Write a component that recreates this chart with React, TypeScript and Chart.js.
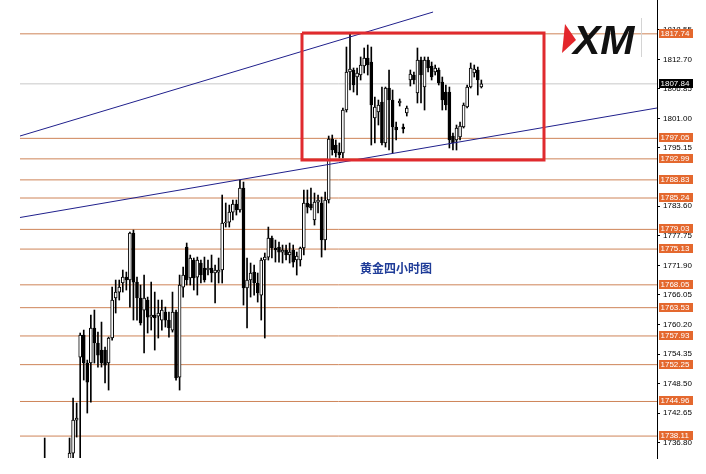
import React, { useEffect, useRef } from 'react';
import { Chart, registerables } from 'chart.js';

Chart.register(...registerables);

// Right-axis tick labels
const Y_TICKS = [1818.55, 1812.7, 1806.85, 1801.0, 1795.15, 1783.6, 1777.75, 1771.9, 1766.05, 1760.2, 1754.35, 1748.5, 1742.65, 1736.8];

// Horizontal support / resistance levels
const LEVELS = [1817.74, 1797.05, 1792.99, 1788.83, 1785.24, 1779.03, 1775.13, 1768.05, 1763.53, 1757.93, 1752.25, 1744.96, 1738.11];
const CURRENT_PRICE = 1807.84;

// 4H candles (open, high, low, close)
const OPEN = [
  1732.77, 1731.78, 1730.19, 1728.21, 1729.4, 1730.98, 1731.78, 1732.96, 1734.75, 1741.28,
  1753.75, 1758.11, 1752.57, 1752.57, 1759.5, 1756.53, 1755.14, 1755.14, 1752.57, 1757.52,
  1765.44, 1766.62, 1768.41, 1769.59, 1769.0, 1778.31, 1768.6, 1765.44, 1763.06, 1765.04,
  1761.67, 1762.07, 1761.87, 1761.08, 1762.66, 1761.08, 1759.1, 1762.66, 1749.79, 1767.61,
  1775.53, 1769.4, 1772.96, 1769.59, 1772.37, 1771.38, 1770.98, 1771.38, 1770.39, 1770.58,
  1770.98, 1780.29, 1780.48, 1782.46, 1784.05, 1782.86, 1787.22, 1767.42, 1769.0, 1770.58,
  1768.41, 1766.03, 1772.96, 1773.55, 1777.32, 1775.34, 1775.53, 1774.54, 1774.94, 1773.95,
  1774.94, 1772.96, 1772.96, 1775.34, 1784.25, 1784.05, 1780.88, 1784.44, 1784.25, 1776.92,
  1784.84, 1796.92, 1795.73, 1794.34, 1794.15, 1802.66, 1810.18, 1810.58, 1809.19, 1809.59,
  1811.37, 1812.96, 1812.16, 1801.08, 1802.26, 1804.24, 1796.13, 1807.02, 1804.64, 1799.29,
  1804.05, 1799.29, 1802.07, 1808.6, 1809.59, 1806.03, 1812.56, 1807.21, 1812.56, 1811.37,
  1810.18, 1810.58, 1808.2, 1806.22, 1806.22, 1797.51, 1796.72, 1797.31, 1799.29, 1803.25,
  1807.21, 1809.99, 1810.58, 1807.21,
];
const HIGH = [
  1737.72, 1732.96, 1731.38, 1729.8, 1731.38, 1732.96, 1733.16, 1737.72, 1745.64, 1744.65,
  1758.51, 1759.1, 1753.16, 1762.07, 1763.06, 1758.7, 1760.68, 1755.73, 1757.71, 1767.61,
  1769.0, 1769.0, 1770.98, 1770.58, 1778.5, 1778.9, 1769.59, 1768.01, 1769.99, 1765.63,
  1768.6, 1766.62, 1765.04, 1765.04, 1763.65, 1762.66, 1766.62, 1763.06, 1769.99, 1771.57,
  1776.33, 1773.95, 1773.36, 1773.55, 1772.96, 1773.55, 1772.96, 1773.95, 1771.97, 1773.36,
  1785.83, 1784.25, 1783.85, 1784.84, 1784.84, 1788.8, 1788.4, 1773.36, 1772.37, 1771.97,
  1770.39, 1773.36, 1774.35, 1779.49, 1777.71, 1776.92, 1776.52, 1775.93, 1775.93, 1776.33,
  1775.93, 1774.54, 1775.53, 1786.82, 1786.82, 1787.22, 1786.23, 1785.83, 1785.43, 1786.42,
  1797.51, 1797.71, 1796.72, 1796.13, 1803.06, 1815.13, 1817.91, 1810.98, 1810.98, 1813.16,
  1814.94, 1815.53, 1815.13, 1805.23, 1804.64, 1807.21, 1807.21, 1810.58, 1806.62, 1800.28,
  1804.84, 1799.89, 1803.45, 1810.58, 1810.18, 1814.94, 1813.16, 1813.16, 1813.16, 1812.16,
  1811.57, 1810.98, 1809.19, 1807.61, 1807.21, 1798.11, 1799.69, 1800.28, 1804.05, 1807.61,
  1811.97, 1811.57, 1811.17, 1808.6,
];
const LOW = [
  1730.98, 1729.4, 1727.42, 1726.43, 1727.81, 1729.4, 1730.39, 1732.17, 1733.36, 1737.91,
  1733.36, 1749.2, 1742.67, 1744.84, 1752.57, 1751.77, 1751.77, 1748.61, 1747.22, 1757.12,
  1762.47, 1765.04, 1766.62, 1767.02, 1763.65, 1761.08, 1761.08, 1760.09, 1754.55, 1758.51,
  1759.1, 1755.14, 1757.52, 1759.1, 1759.69, 1757.71, 1758.7, 1749.2, 1747.22, 1765.63,
  1768.01, 1768.01, 1767.02, 1766.03, 1768.41, 1768.6, 1769.99, 1768.6, 1764.45, 1768.41,
  1768.41, 1779.49, 1779.49, 1780.88, 1781.87, 1782.46, 1764.05, 1759.5, 1765.63, 1766.03,
  1764.64, 1761.08, 1757.52, 1772.96, 1773.36, 1772.56, 1772.56, 1772.37, 1772.96, 1772.37,
  1771.57, 1769.99, 1771.77, 1773.95, 1782.27, 1782.86, 1779.89, 1782.27, 1773.55, 1774.94,
  1784.25, 1793.75, 1793.35, 1793.16, 1793.16, 1802.26, 1806.62, 1806.22, 1805.63, 1808.6,
  1809.99, 1809.59, 1795.73, 1796.13, 1799.69, 1795.73, 1795.33, 1794.74, 1794.15, 1796.72,
  1803.45, 1798.11, 1801.47, 1807.41, 1807.81, 1804.05, 1804.05, 1802.66, 1810.18, 1808.6,
  1809.59, 1807.61, 1802.66, 1802.66, 1795.14, 1794.74, 1794.74, 1796.72, 1799.1, 1803.06,
  1807.02, 1809.19, 1805.63, 1807.02,
];
const CLOSE = [
  1731.78, 1730.19, 1728.21, 1729.4, 1730.98, 1731.78, 1732.37, 1734.75, 1741.28, 1741.68,
  1758.11, 1752.57, 1748.8, 1759.5, 1756.53, 1754.15, 1752.57, 1752.17, 1757.52, 1765.04,
  1766.62, 1767.61, 1769.59, 1769.0, 1778.31, 1768.6, 1765.44, 1760.49, 1765.44, 1761.67,
  1762.07, 1761.48, 1762.47, 1763.06, 1761.08, 1759.5, 1762.66, 1749.6, 1768.01, 1769.99,
  1769.0, 1773.36, 1769.4, 1772.96, 1769.99, 1769.0, 1771.38, 1770.39, 1770.98, 1770.98,
  1780.29, 1780.48, 1782.46, 1784.05, 1782.86, 1787.22, 1767.42, 1769.0, 1770.39, 1768.41,
  1766.43, 1772.96, 1773.55, 1777.32, 1775.34, 1774.94, 1774.54, 1774.94, 1773.95, 1774.54,
  1772.56, 1773.75, 1775.34, 1784.25, 1783.45, 1783.26, 1784.44, 1784.84, 1776.92, 1784.84,
  1796.92, 1794.74, 1794.15, 1793.75, 1802.66, 1810.18, 1810.78, 1807.61, 1809.99, 1811.57,
  1812.96, 1811.57, 1803.65, 1803.25, 1803.65, 1796.13, 1807.02, 1804.64, 1799.29, 1798.7,
  1804.44, 1798.9, 1803.06, 1809.79, 1808.6, 1812.56, 1809.59, 1812.56, 1810.98, 1809.19,
  1810.98, 1808.01, 1804.64, 1803.65, 1796.72, 1796.13, 1799.1, 1799.49, 1803.65, 1807.21,
  1810.98, 1810.78, 1808.6, 1807.84,
];

// Trend lines and highlighted box, in (bar index, price) coordinates
const UPPER_TREND = [{ x: -6.96, y: 1797.51 }, { x: 109.4, y: 1822.06 }];
const LOWER_TREND = [{ x: -6.96, y: 1781.38 }, { x: 172.48, y: 1803.06 }];
const BOX_X = [72.48, 140.65];
const BOX_Y = [1792.77, 1817.91];
const LABEL_TEXT = '黄金四小时图';
const LABEL_POS = { x: 98.96, y: 1771.39 };

const X_MIN = -12.59;
const X_MAX = 172.48;
const LINE_START = -6.96;
const Y_MIN = 1733.77;
const Y_MAX = 1824.44;

const LEVEL_COLOR = 'rgb(206,132,88)';
const TAG_COLOR = '#e4682e';

const overlayPlugin = {
  id: 'overlay',
  afterDraw(chart: any) {
    const { ctx, chartArea } = chart;
    const x = chart.scales.x;
    const y = chart.scales.y;
    ctx.save();
    // price tags on the axis
    ctx.font = '8px "Liberation Sans", Arial, sans-serif';
    ctx.textBaseline = 'middle';
    ctx.textAlign = 'left';
    const bx = chartArea.right + 2;
    const tag = (v: number, bg: string) => {
      const py = Math.round(y.getPixelForValue(v));
      ctx.fillStyle = bg;
      ctx.fillRect(bx, py - 5, 34, 9);
      ctx.fillStyle = '#ffffff';
      ctx.fillText(v.toFixed(2), bx + 1.5, py);
    };
    LEVELS.forEach((v) => tag(v, TAG_COLOR));
    tag(CURRENT_PRICE, '#000000');

    // chart caption
    ctx.font = 'bold 12px "Noto Sans CJK SC", sans-serif';
    ctx.fillStyle = '#1f3c98';
    ctx.textAlign = 'center';
    ctx.fillText(LABEL_TEXT, x.getPixelForValue(LABEL_POS.x), y.getPixelForValue(LABEL_POS.y));

    // XM logo
    ctx.fillStyle = '#e3262b';
    ctx.beginPath();
    ctx.moveTo(565, 24);
    ctx.lineTo(576, 40);
    ctx.lineTo(562, 53);
    ctx.closePath();
    ctx.fill();
    ctx.fillStyle = '#111111';
    ctx.font = 'italic bold 41px "Liberation Sans", Arial, sans-serif';
    ctx.textAlign = 'left';
    ctx.textBaseline = 'alphabetic';
    ctx.fillText('XM', 573, 54);
    ctx.strokeStyle = '#d4d4d4';
    ctx.lineWidth = 1;
    ctx.beginPath();
    ctx.moveTo(641.5, 18);
    ctx.lineTo(641.5, 57);
    ctx.stroke();
    ctx.restore();
  },
};

export default function App() {
  const ref = useRef<HTMLCanvasElement | null>(null);

  useEffect(() => {
    if (!ref.current) return;
    const idx = OPEN.map((_, i) => i);
    const wicks = idx.map((i) => ({ x: i, y: [LOW[i], HIGH[i]] }));
    const bodies = idx.map((i) => ({ x: i, y: [OPEN[i], CLOSE[i]] }));
    const bodyColors = idx.map((i) => (CLOSE[i] >= OPEN[i] ? '#ffffff' : '#000000'));

    const levelSets = LEVELS.map((v) => ({
      type: 'line',
      data: [{ x: LINE_START, y: v }, { x: X_MAX, y: v }],
      borderColor: LEVEL_COLOR,
      borderWidth: 1,
      pointRadius: 0,
      fill: false,
      order: 10,
    }));

    const chart = new Chart(ref.current, {
      type: 'bar',
      data: {
        datasets: [
          ...levelSets,
          {
            type: 'line',
            data: [{ x: LINE_START, y: CURRENT_PRICE }, { x: X_MAX, y: CURRENT_PRICE }],
            borderColor: '#c8c8c8',
            borderWidth: 1,
            pointRadius: 0,
            fill: false,
            order: 10,
          },
          {
            type: 'bar',
            data: wicks,
            backgroundColor: '#000000',
            borderWidth: 0,
            barThickness: 1,
            grouped: false,
            order: 3,
          },
          {
            type: 'bar',
            data: bodies,
            backgroundColor: bodyColors,
            borderColor: '#000000',
            borderWidth: 1,
            borderSkipped: false,
            barThickness: 3,
            grouped: false,
            order: 2,
          },
          {
            type: 'line',
            data: UPPER_TREND,
            borderColor: '#20208c',
            borderWidth: 1,
            pointRadius: 0,
            fill: false,
            order: 1,
          },
          {
            type: 'line',
            data: LOWER_TREND,
            borderColor: '#20208c',
            borderWidth: 1,
            pointRadius: 0,
            fill: false,
            order: 1,
          },
          {
            type: 'line',
            data: [
              { x: BOX_X[0], y: BOX_Y[1] },
              { x: BOX_X[1], y: BOX_Y[1] },
              { x: BOX_X[1], y: BOX_Y[0] },
              { x: BOX_X[0], y: BOX_Y[0] },
              { x: BOX_X[0], y: BOX_Y[1] },
            ],
            borderColor: '#e02a2e',
            borderWidth: 3,
            borderJoinStyle: 'miter',
            pointRadius: 0,
            fill: false,
            order: 0,
          },
        ] as any,
      },
      options: {
        responsive: false,
        devicePixelRatio: 1,
        animation: false,
        events: [],
        layout: { padding: { left: 0, right: 0, top: 0, bottom: 16 } },
        plugins: { legend: { display: false }, tooltip: { enabled: false } },
        scales: {
          x: {
            type: 'linear',
            display: false,
            min: X_MIN,
            max: X_MAX,
            offset: false,
          },
          y: {
            type: 'linear',
            position: 'right',
            min: Y_MIN,
            max: Y_MAX,
            afterBuildTicks: (s: any) => {
              s.ticks = Y_TICKS.map((v) => ({ value: v }));
            },
            afterFit: (s: any) => {
              s.width = 49;
              s.paddingTop = 0;
              s.paddingBottom = 0;
            },
            grid: { drawOnChartArea: false, drawTicks: true, tickLength: 3, color: '#000000' },
            border: { display: true, color: '#000000', width: 1 },
            ticks: {
              autoSkip: false,
              padding: 3,
              color: '#000000',
              font: { family: '"Liberation Sans", Arial, sans-serif', size: 8 },
              callback: (v: any) => Number(v).toFixed(2),
            },
          },
        },
      } as any,
      plugins: [overlayPlugin],
    });
    return () => chart.destroy();
  }, []);

  return (
    <div style={{ position: 'fixed', left: 0, top: 0, width: 706, height: 474, background: '#ffffff' }}>
      <canvas ref={ref} width={706} height={474} style={{ display: 'block', width: 706, height: 474 }} />
    </div>
  );
}
